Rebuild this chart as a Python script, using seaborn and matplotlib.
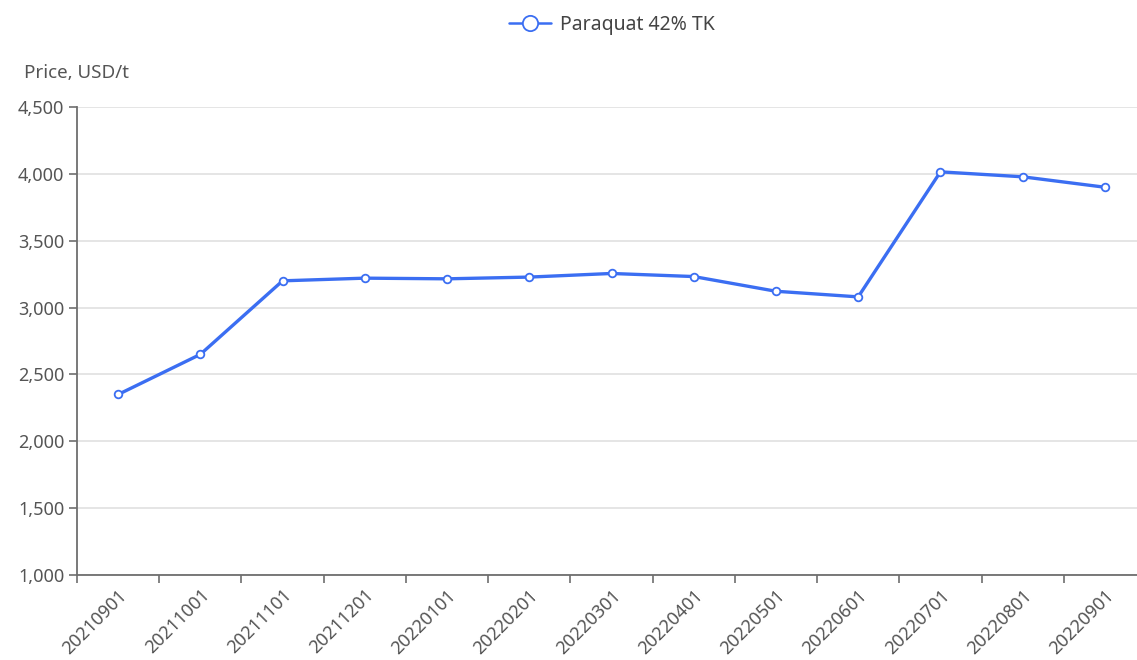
import matplotlib
matplotlib.use("Agg")
import matplotlib.pyplot as plt
import seaborn as sns
import pandas as pd
import numpy as np

categories = ["20210901", "20211001", "20211101", "20211201", "20220101", "20220201",
              "20220301", "20220401", "20220501", "20220601", "20220701", "20220801", "20220901"]
prices = [2350, 2650, 3200, 3220, 3215, 3228, 3255, 3232, 3122, 3080, 4015, 3978, 3900]
series_name = "Paraquat 42% TK"
y_ticks = [1000, 1500, 2000, 2500, 3000, 3500, 4000, 4500]

sns.set_style("white")
plt.rcParams['font.family'] = ['Noto Sans', 'DejaVu Sans']
plt.rcParams['xtick.bottom'] = True
plt.rcParams['ytick.left'] = True

df = pd.DataFrame({"date": categories, "price": prices, "idx": np.arange(len(categories))})

W, H = 1137, 660
fig = plt.figure(figsize=(W / 100, H / 100), dpi=100)
left, right, bottom, top = 77, 1146, 575, 107
ax = fig.add_axes([left / W, (H - bottom) / H, (right - left) / W, (bottom - top) / H])

blue = "#3b6ef2"
sns.lineplot(data=df, x="idx", y="price", ax=ax, color=blue, linewidth=2.4,
             marker="o", markersize=5.5, markerfacecolor="white",
             markeredgecolor=blue, markeredgewidth=1.3, label=series_name, zorder=3)

ax.set_xlim(-0.5, len(categories) - 0.5)
ax.set_ylim(1000, 4500)
ax.set_yticks(y_ticks)
ax.set_yticklabels([f"{v:,}" for v in y_ticks])
ax.yaxis.grid(True, color="#e0e0e0", linewidth=1.2)
ax.xaxis.grid(False)
ax.set_axisbelow(True)

# ticks at category boundaries, labels at category centres
ax.set_xticks(np.arange(len(categories) + 1) - 0.5)
ax.set_xticklabels([])
ax.set_xticks(np.arange(len(categories)), minor=True)
ax.set_xticklabels(categories, minor=True, rotation=45, ha="right", va="top",
                   rotation_mode="anchor")
ax.tick_params(axis="x", which="major", bottom=True, length=6, width=1.2, color="#6e6e6e",
               direction="out")
ax.tick_params(axis="x", which="minor", bottom=True, length=0, pad=8, labelsize=13,
               labelcolor="#555555")
ax.tick_params(axis="y", which="major", length=6, width=1.2, color="#6e6e6e", direction="out",
               pad=3, labelsize=13, labelcolor="#555555", left=True)

for s in ["top", "right"]:
    ax.spines[s].set_visible(False)
for s in ["left", "bottom"]:
    ax.spines[s].set_color("#6e6e6e")
    ax.spines[s].set_linewidth(1.3)

ax.set_xlabel("")
ax.set_ylabel("")
fig.text(left / W, (H - 73) / H, "Price, USD/t", ha="center", va="center",
         fontsize=13.5, color="#555555")

leg = ax.legend(loc="center", bbox_to_anchor=(612 / W, (H - 25) / H),
                bbox_transform=fig.transFigure, frameon=False, fontsize=14,
                handlelength=2.15, markerscale=2.0, handletextpad=0.5)
for t in leg.get_texts():
    t.set_color("#444444")
for h in leg.legend_handles:
    h.set_linewidth(1.8)

fig.savefig("out.png", dpi=100)
